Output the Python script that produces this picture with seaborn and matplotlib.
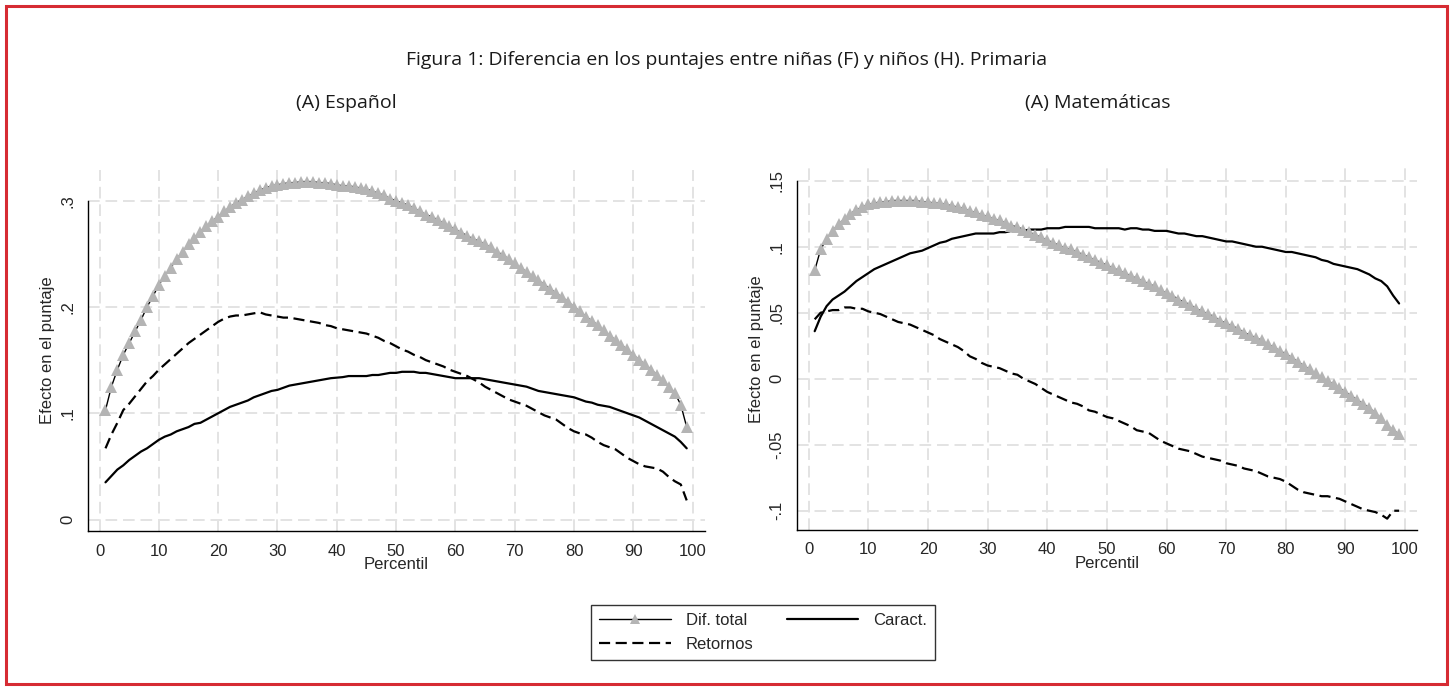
import numpy as np
import pandas as pd
import matplotlib
matplotlib.use("Agg")
import matplotlib.pyplot as plt
import seaborn as sns
from matplotlib.lines import Line2D
from matplotlib.patches import Rectangle

# ---------------- data ----------------
percentil = list(range(1, 100))

esp_dif_total = [
    0.103, 0.125, 0.141, 0.155, 0.166, 0.177, 0.188, 0.200, 0.210, 0.221,
    0.229, 0.237, 0.245, 0.252, 0.259, 0.265, 0.271, 0.276, 0.281, 0.285,
    0.290, 0.294, 0.298, 0.301, 0.304, 0.307, 0.310, 0.312, 0.314, 0.315,
    0.316, 0.317, 0.317, 0.318, 0.318, 0.318, 0.317, 0.317, 0.316, 0.315,
    0.314, 0.314, 0.313, 0.312, 0.311, 0.309, 0.307, 0.305, 0.302, 0.300,
    0.298, 0.296, 0.293, 0.290, 0.287, 0.285, 0.282, 0.279, 0.276, 0.273,
    0.270, 0.267, 0.264, 0.262, 0.259, 0.256, 0.252, 0.249, 0.245, 0.241,
    0.237, 0.233, 0.229, 0.225, 0.221, 0.217, 0.213, 0.209, 0.205, 0.200,
    0.196, 0.191, 0.187, 0.183, 0.178, 0.173, 0.169, 0.164, 0.160, 0.155,
    0.150, 0.146, 0.141, 0.136, 0.131, 0.125, 0.119, 0.108, 0.087]

esp_caract = [
    0.035, 0.041, 0.047, 0.051, 0.056, 0.060, 0.064, 0.067, 0.071, 0.075,
    0.078, 0.080, 0.083, 0.085, 0.087, 0.090, 0.091, 0.094, 0.097, 0.100,
    0.103, 0.106, 0.108, 0.110, 0.112, 0.115, 0.117, 0.119, 0.121, 0.122,
    0.124, 0.126, 0.127, 0.128, 0.129, 0.130, 0.131, 0.132, 0.133, 0.1335,
    0.134, 0.135, 0.135, 0.135, 0.135, 0.136, 0.136, 0.137, 0.138, 0.138,
    0.139, 0.139, 0.139, 0.138, 0.138, 0.137, 0.136, 0.135, 0.134, 0.133,
    0.133, 0.133, 0.133, 0.133, 0.132, 0.131, 0.130, 0.129, 0.128, 0.127,
    0.126, 0.125, 0.123, 0.121, 0.120, 0.119, 0.118, 0.117, 0.116, 0.115,
    0.113, 0.111, 0.110, 0.108, 0.107, 0.106, 0.104, 0.102, 0.100, 0.098,
    0.096, 0.093, 0.090, 0.087, 0.084, 0.081, 0.078, 0.073, 0.067]

esp_retornos = [
    0.067, 0.080, 0.091, 0.103, 0.109, 0.116, 0.123, 0.130, 0.135, 0.141,
    0.146, 0.151, 0.156, 0.161, 0.166, 0.170, 0.174, 0.178, 0.182, 0.186,
    0.189, 0.191, 0.192, 0.192, 0.193, 0.194, 0.195, 0.193, 0.192, 0.191,
    0.190, 0.190, 0.189, 0.188, 0.187, 0.186, 0.185, 0.183, 0.182, 0.180,
    0.179, 0.178, 0.177, 0.176, 0.175, 0.173, 0.171, 0.168, 0.166, 0.163,
    0.160, 0.158, 0.155, 0.153, 0.150, 0.148, 0.146, 0.144, 0.141, 0.139,
    0.137, 0.135, 0.132, 0.129, 0.125, 0.122, 0.119, 0.116, 0.113, 0.111,
    0.109, 0.107, 0.104, 0.101, 0.098, 0.096, 0.094, 0.090, 0.086, 0.083,
    0.081, 0.080, 0.077, 0.073, 0.070, 0.068, 0.066, 0.062, 0.058, 0.055,
    0.052, 0.050, 0.049, 0.048, 0.045, 0.040, 0.036, 0.033, 0.018]

mat_dif_total = [
    0.082, 0.098, 0.106, 0.112, 0.117, 0.121, 0.125, 0.128, 0.130, 0.132,
    0.133, 0.134, 0.134, 0.135, 0.135, 0.135, 0.135, 0.135, 0.134, 0.134,
    0.133, 0.133, 0.132, 0.131, 0.130, 0.129, 0.127, 0.126, 0.124, 0.123,
    0.121, 0.120, 0.118, 0.116, 0.115, 0.113, 0.111, 0.109, 0.107, 0.105,
    0.103, 0.101, 0.099, 0.098, 0.096, 0.094, 0.092, 0.090, 0.088, 0.086,
    0.084, 0.082, 0.080, 0.078, 0.076, 0.074, 0.072, 0.070, 0.067, 0.065,
    0.063, 0.060, 0.058, 0.056, 0.053, 0.051, 0.049, 0.047, 0.044, 0.042,
    0.040, 0.038, 0.035, 0.033, 0.031, 0.029, 0.026, 0.024, 0.021, 0.019,
    0.016, 0.013, 0.010, 0.007, 0.004, 0.001, -0.002, -0.004, -0.007, -0.010,
    -0.013, -0.016, -0.019, -0.022, -0.026, -0.030, -0.035, -0.039, -0.042]

mat_caract = [
    0.036, 0.047, 0.055, 0.060, 0.063, 0.066, 0.070, 0.074, 0.077, 0.080,
    0.083, 0.085, 0.087, 0.089, 0.091, 0.093, 0.095, 0.096, 0.097, 0.099,
    0.101, 0.103, 0.104, 0.106, 0.107, 0.108, 0.109, 0.110, 0.110, 0.110,
    0.110, 0.111, 0.111, 0.112, 0.112, 0.112, 0.113, 0.113, 0.113, 0.114,
    0.114, 0.114, 0.115, 0.115, 0.115, 0.115, 0.115, 0.114, 0.114, 0.114,
    0.114, 0.114, 0.113, 0.114, 0.114, 0.113, 0.113, 0.112, 0.112, 0.112,
    0.111, 0.110, 0.110, 0.109, 0.108, 0.108, 0.107, 0.106, 0.105, 0.104,
    0.104, 0.103, 0.102, 0.101, 0.100, 0.100, 0.099, 0.098, 0.097, 0.096,
    0.096, 0.095, 0.094, 0.093, 0.092, 0.090, 0.089, 0.087, 0.086, 0.085,
    0.084, 0.083, 0.081, 0.079, 0.076, 0.074, 0.070, 0.063, 0.057]

mat_retornos = [
    0.045, 0.050, 0.051, 0.052, 0.052, 0.054, 0.054, 0.053, 0.053, 0.051,
    0.050, 0.049, 0.047, 0.045, 0.043, 0.042, 0.041, 0.039, 0.037, 0.035,
    0.033, 0.030, 0.028, 0.026, 0.024, 0.021, 0.017, 0.015, 0.012, 0.010,
    0.009, 0.008, 0.006, 0.004, 0.003, 0.000, -0.002, -0.004, -0.007, -0.010,
    -0.012, -0.014, -0.016, -0.018, -0.019, -0.021, -0.024, -0.025, -0.027, -0.029,
    -0.030, -0.032, -0.034, -0.036, -0.039, -0.040, -0.041, -0.044, -0.047, -0.049,
    -0.051, -0.053, -0.054, -0.055, -0.057, -0.059, -0.060, -0.061, -0.062, -0.064,
    -0.065, -0.066, -0.068, -0.069, -0.070, -0.072, -0.074, -0.075, -0.076, -0.078,
    -0.081, -0.084, -0.086, -0.087, -0.088, -0.089, -0.089, -0.090, -0.091, -0.093,
    -0.095, -0.097, -0.099, -0.100, -0.101, -0.103, -0.106, -0.100, -0.100]

x_ticks = [0, 10, 20, 30, 40, 50, 60, 70, 80, 90, 100]
esp_yticks = [0, 0.1, 0.2, 0.3]
esp_yticklabels = ["0", ".1", ".2", ".3"]
mat_yticks = [-0.1, -0.05, 0, 0.05, 0.1, 0.15]
mat_yticklabels = ["-.1", "-.05", "0", ".05", ".1", ".15"]

title = "Figura 1: Diferencia en los puntajes entre niñas (F) y niños (H). Primaria"
panel_titles = ["(A) Español", "(A) Matemáticas"]
series_names = ["Dif. total", "Caract.", "Retornos"]
xlabel = "Percentil"
ylabel = "Efecto en el puntaje"

# ---------------- style ----------------
sns.set_style("white")
plt.rcParams["font.family"] = ["Liberation Sans", "DejaVu Sans"]

W, H = 1454, 690
fig = plt.figure(figsize=(W / 100, H / 100), dpi=100)

def fx(px):
    return px / W

def fy(py):
    return 1 - py / H

ax1 = fig.add_axes([fx(87.7), fy(531), fx(704.5 - 87.7), (531 - 170) / H])
ax2 = fig.add_axes([fx(796.8), fy(530), fx(1417 - 796.8), (530 - 168.3) / H])

GRAY_TRI = "#b4b4b4"
GRID = "#e3e3e3"
FS = 12

def draw_panel(ax, dif, car, ret, yticks, yticklabels, ylim):
    df = pd.DataFrame({"p": percentil, "dif": dif, "car": car, "ret": ret})
    for xt in x_ticks:
        ax.axvline(xt, color=GRID, lw=1.4, ls=(0, (6, 3)), zorder=0)
    for yt in yticks:
        ax.axhline(yt, color=GRID, lw=1.4, ls=(0, (6, 3)), zorder=0)
    sns.lineplot(data=df, x="p", y="car", ax=ax, color="black", lw=1.6,
                 zorder=3)
    sns.lineplot(data=df, x="p", y="ret", ax=ax, color="black", lw=1.6,
                 dashes=False, linestyle=(0, (5, 2.5)), zorder=3)
    sns.lineplot(data=df, x="p", y="dif", ax=ax, color="black", lw=1.0,
                 marker="^", markersize=8.5, markerfacecolor=GRAY_TRI,
                 markeredgecolor=GRAY_TRI, markeredgewidth=0, zorder=4)
    ax.set_xlim(-2, 102)
    ax.set_ylim(*ylim)
    ax.set_xticks(x_ticks)
    ax.set_xticklabels([str(t) for t in x_ticks], fontsize=FS)
    ax.set_yticks(yticks)
    ax.set_yticklabels(yticklabels, fontsize=FS, rotation=90, va="center")
    ax.tick_params(axis="both", direction="out", length=5, width=1,
                   color="black", pad=4)
    for s in ["top", "right"]:
        ax.spines[s].set_visible(False)
    ax.spines["left"].set_bounds(ylim[0], yticks[-1])
    for s in ["left", "bottom"]:
        ax.spines[s].set_color("black")
        ax.spines[s].set_linewidth(1)
    ax.set_xlabel(xlabel, fontsize=FS, labelpad=-1)
    ax.set_ylabel(ylabel, fontsize=FS, labelpad=4)
    ax.grid(False)

draw_panel(ax1, esp_dif_total, esp_caract, esp_retornos,
           esp_yticks, esp_yticklabels, (-0.0108, 0.3289))
draw_panel(ax2, mat_dif_total, mat_caract, mat_retornos,
           mat_yticks, mat_yticklabels, (-0.1146, 0.1594))

# titles
title_font = ["Open Sans", "DejaVu Sans"]
fig.text(fx(727), fy(60), title, ha="center", va="center", fontsize=14,
         family=title_font, color="#1a1a1a")
fig.text(fx(346), fy(103), panel_titles[0], ha="center", va="center",
         fontsize=14, family=title_font, color="#1a1a1a")
fig.text(fx(1098), fy(103), panel_titles[1], ha="center", va="center",
         fontsize=14, family=title_font, color="#1a1a1a")

# legend
handles = [
    Line2D([], [], color="black", lw=1.0, marker="^", markersize=7,
           markerfacecolor=GRAY_TRI, markeredgecolor=GRAY_TRI,
           markeredgewidth=0),
    Line2D([], [], color="black", lw=1.6, linestyle=(0, (5, 2.5))),
    Line2D([], [], color="black", lw=1.6),
]
labels = [series_names[0], series_names[2], series_names[1]]
leg = fig.legend(handles, labels, ncol=2, loc="center",
                 bbox_to_anchor=(fx(763), fy(632.5)), fontsize=FS,
                 frameon=True, fancybox=False, edgecolor="black",
                 handlelength=4.3, columnspacing=2.0, handletextpad=0.9,
                 borderpad=0.5, labelspacing=0.5, markerfirst=True)
leg.get_frame().set_linewidth(1.0)

# red border
fig.patches.append(Rectangle((fx(6), fy(684)), fx(1447 - 6), (684 - 6) / H,
                             transform=fig.transFigure, fill=False,
                             edgecolor="#d62b33", lw=2.2, zorder=10))

fig.savefig("out.png", dpi=100, facecolor="white")
